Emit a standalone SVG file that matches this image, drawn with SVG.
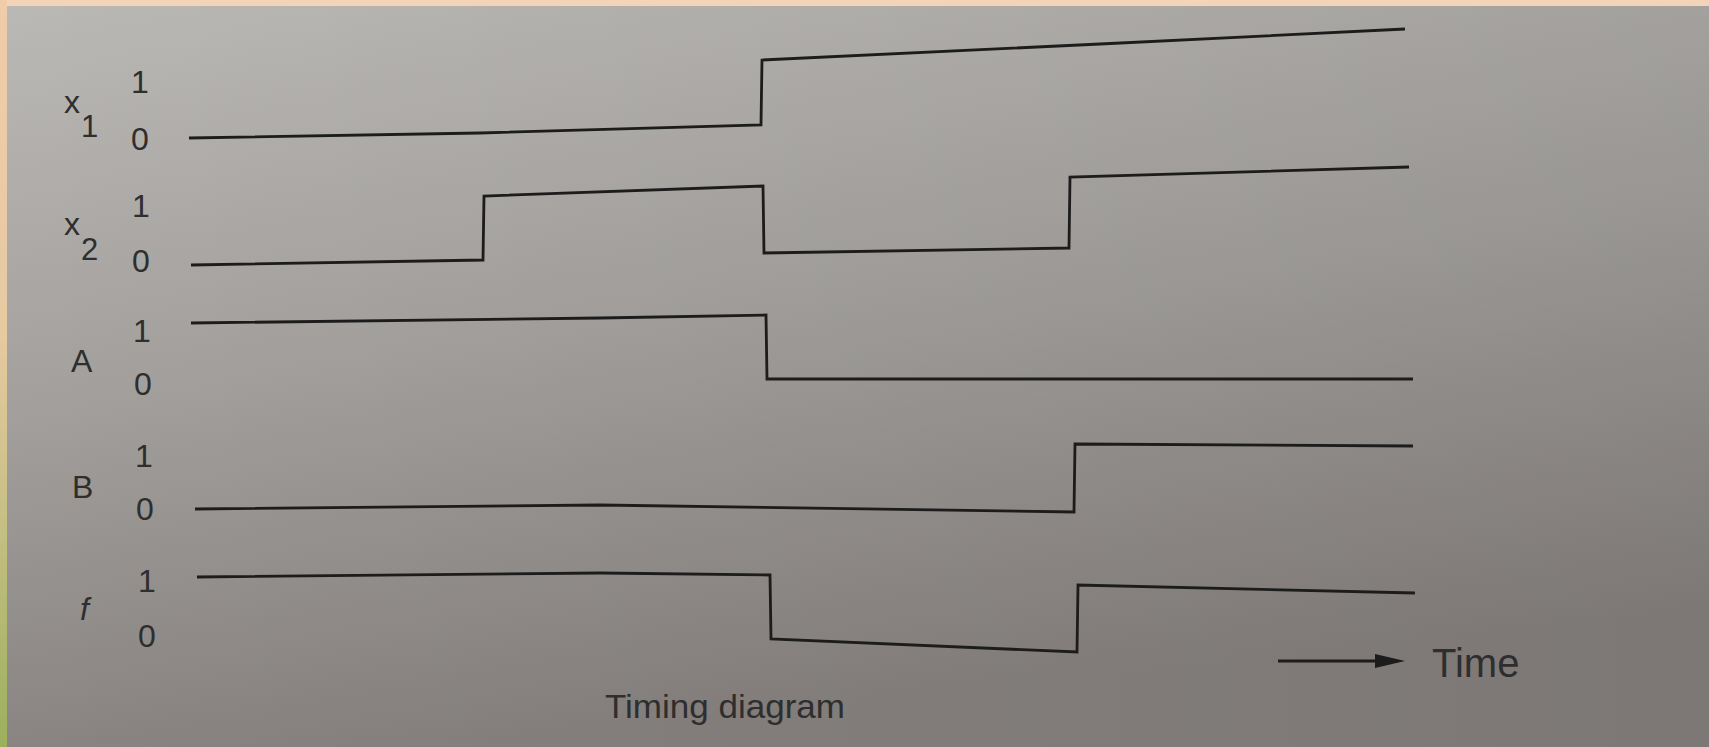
<svg xmlns="http://www.w3.org/2000/svg" width="1709" height="747" viewBox="0 0 1709 747">
  <defs>
    <linearGradient id="paper" x1="0" y1="0" x2="0.25" y2="1">
      <stop offset="0" stop-color="#bbb9b5"/>
      <stop offset="0.5" stop-color="#a3a09d"/>
      <stop offset="1" stop-color="#86817e"/>
    </linearGradient>
    <linearGradient id="shade" x1="0" y1="0" x2="1" y2="0">
      <stop offset="0" stop-color="#000" stop-opacity="0"/>
      <stop offset="1" stop-color="#000" stop-opacity="0.07"/>
    </linearGradient>
    <linearGradient id="edge" x1="0" y1="0" x2="0" y2="1">
      <stop offset="0" stop-color="#f0ccaa"/>
      <stop offset="0.45" stop-color="#e6caa0"/>
      <stop offset="0.7" stop-color="#c6bf84"/>
      <stop offset="1" stop-color="#9bb05c"/>
    </linearGradient>
    <style>
      .sig { fill: none; stroke: #1c1c1c; stroke-width: 2.8; stroke-linejoin: miter; }
      .lbl { font-family: "Liberation Sans", Arial, sans-serif; fill: #2e2e2e; }
      .lv { font-size: 32px; text-anchor: middle; }
      .nm { font-size: 32px; }
      .sub { font-size: 31px; }
    </style>
  </defs>

  <!-- background (photo of page) -->
  <rect x="0" y="0" width="1709" height="747" fill="url(#paper)"/>
  <rect x="0" y="0" width="1709" height="747" fill="url(#shade)"/>
  <rect x="0" y="0" width="1709" height="6" fill="#f4d4b8"/>
  <rect x="0" y="0" width="7" height="747" fill="url(#edge)"/>

  <g id="x1">
    <text class="lbl nm" x="64" y="113">x</text>
    <text class="lbl sub" x="81" y="137">1</text>
    <text class="lbl lv" x="140" y="93">1</text>
    <text class="lbl lv" x="140" y="150">0</text>
  </g>
  <g id="x2">
    <text class="lbl nm" x="64" y="235">x</text>
    <text class="lbl sub" x="81" y="260">2</text>
    <text class="lbl lv" x="141" y="217">1</text>
    <text class="lbl lv" x="141" y="272">0</text>
  </g>
  <g id="A">
    <text class="lbl nm" x="71" y="372">A</text>
    <text class="lbl lv" x="142" y="342">1</text>
    <text class="lbl lv" x="143" y="395">0</text>
  </g>
  <g id="B">
    <text class="lbl nm" x="72" y="498">B</text>
    <text class="lbl lv" x="144" y="467">1</text>
    <text class="lbl lv" x="145" y="520">0</text>
  </g>
  <g id="f">
    <text class="lbl nm" x="80" y="620" font-style="italic">f</text>
    <text class="lbl lv" x="147" y="592">1</text>
    <text class="lbl lv" x="147" y="647">0</text>
  </g>

  <g id="connectors">
    <path id="wave-x1" class="sig" d="M189,138 L480,133 L761,125 L762,60 L1100,44 L1405,29"/>
    <path id="wave-x2" class="sig" d="M191,265 L483,260 L484,196 L763,186 L764,253 L1069,248 L1070,177 L1409,167"/>
    <path id="wave-A" class="sig" d="M191,323 L600,318 L766,315 L767,379 L1413,379"/>
    <path id="wave-B" class="sig" d="M195,509 L600,505 L1074,512 L1075,444 L1413,446"/>
    <path id="wave-f" class="sig" d="M197,577 L600,573 L770,575 L771,639 L1077,652 L1078,585 L1415,593"/>
    <g id="time-arrow">
      <line x1="1278" y1="661" x2="1380" y2="661" stroke="#1c1c1c" stroke-width="2.8"/>
      <polygon points="1375,654 1405,661 1375,668" fill="#1c1c1c"/>
    </g>
  </g>

  <g id="time-label">
    <text class="lbl" x="1432" y="677" font-size="40">Time</text>
  </g>
  <g id="caption">
    <text class="lbl" x="605" y="718" font-size="34" textLength="240" lengthAdjust="spacingAndGlyphs">Timing diagram</text>
  </g>
</svg>
